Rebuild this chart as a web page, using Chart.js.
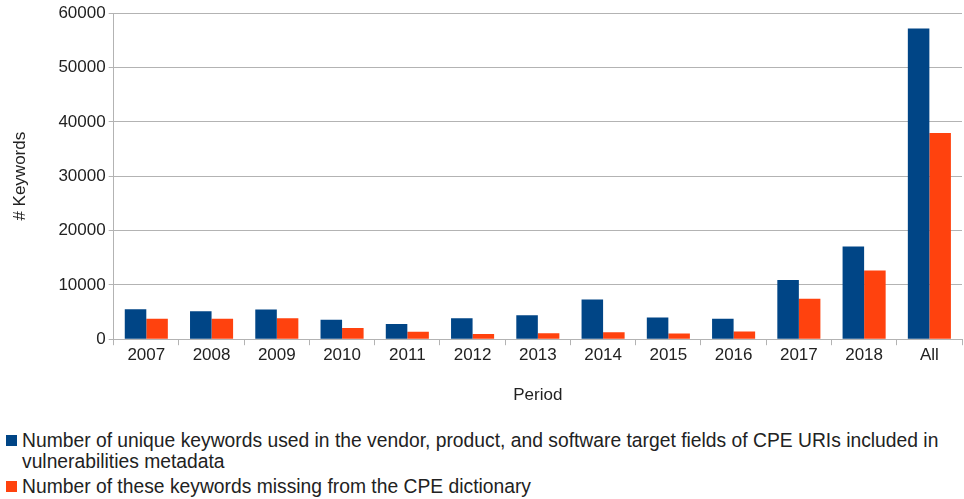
<!DOCTYPE html>
<html>
<head>
<meta charset="utf-8">
<script src="https://cdn.jsdelivr.net/npm/chart.js@4"></script>
<style>
  body { margin: 0; background: #fff; width: 964px; height: 499px; overflow: hidden; font-family: "Liberation Sans", Arial, sans-serif; }
  #wrap { position: absolute; left: 0; top: 0; width: 964px; height: 406px; }
  #legend { position: absolute; left: 6px; top: 430px; width: 936px; font-family: "Liberation Sans", Arial, sans-serif; font-size: 19.3px; color: #222; line-height: 21px; }
  .item { position: relative; padding-left: 16px; margin-bottom: 4px; }
  .sw { position: absolute; left: 0; top: 5px; width: 11px; height: 11px; }
</style>
</head>
<body>
<div id="wrap"><canvas id="myChart"></canvas></div>
<div id="legend">
  <div class="item"><span class="sw" style="background:#004586"></span>Number of unique keywords used in the vendor, product, and software target fields of CPE URIs included in vulnerabilities metadata</div>
  <div class="item"><span class="sw" style="background:#ff420e"></span>Number of these keywords missing from the CPE dictionary</div>
</div>
<script>
const periods = ['2007','2008','2009','2010','2011','2012','2013','2014','2015','2016','2017','2018','All'];
const uniqueKeywords = [5530, 5160, 5460, 3560, 2820, 3870, 4430, 7300, 3990, 3750, 10890, 17080, 57200];
const missingKeywords = [3750, 3750, 3870, 2080, 1350, 980, 1100, 1290, 1030, 1400, 7440, 12660, 37940];

const data = {
  labels: periods,
  datasets: [
    {
      label: 'Number of unique keywords used in the vendor, product, and software target fields of CPE URIs included in vulnerabilities metadata',
      data: uniqueKeywords,
      backgroundColor: '#004586',
      borderWidth: 0,
      categoryPercentage: 0.66,
      barPercentage: 1.0,
    },
    {
      label: 'Number of these keywords missing from the CPE dictionary',
      data: missingKeywords,
      backgroundColor: '#ff420e',
      borderWidth: 0,
      categoryPercentage: 0.66,
      barPercentage: 1.0,
    }
  ],
};

const config = {
  type: 'bar',
  data: data,
  options: {
    responsive: true,
    maintainAspectRatio: false,
    animation: false,
    layout: { padding: { top: 4, right: 2, left: 10, bottom: 0 } },
    scales: {
      x: {
        grid: { display: true, drawOnChartArea: false, offset: true, color: '#b3b3b3', tickLength: 6 },
        border: { color: '#b3b3b3' },
        ticks: { color: '#222', font: { family: 'Liberation Sans', size: 17 }, padding: 0 },
        title: { display: true, text: 'Period', color: '#222', font: { family: 'Liberation Sans', size: 17 }, padding: { top: 20, bottom: 0 } },
      },
      y: {
        min: 0,
        max: 60000,
        grid: { color: '#b3b3b3', tickLength: 5 },
        border: { color: '#b3b3b3' },
        ticks: { stepSize: 10000, color: '#222', font: { family: 'Liberation Sans', size: 17 }, padding: 3,
          callback: function(value) { return String(value); } },
        title: { display: true, text: '# Keywords', color: '#222', font: { family: 'Liberation Sans', size: 17 }, padding: { top: 0, bottom: 25 } },
      }
    },
    plugins: {
      legend: { display: false },
      tooltip: { enabled: false },
    }
  },
};
const ctx = document.getElementById('myChart');

const myChart = new Chart(ctx, config);
</script>
</body>
</html>
